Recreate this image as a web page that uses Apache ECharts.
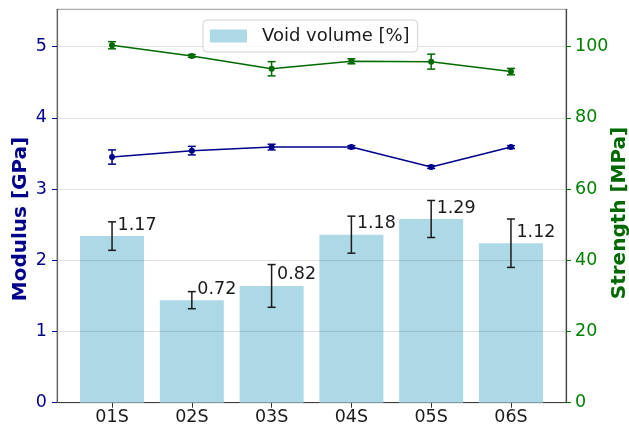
<!DOCTYPE html>
<html>
<head>
<meta charset="utf-8">
<script src="https://cdn.jsdelivr.net/npm/echarts@6/dist/echarts.min.js"></script>
<style>html,body{margin:0;padding:0;background:#fff;}#c{width:629px;height:425px;}</style>
</head>
<body>
<div id="c"></div>
<script>
const categories = ['01S', '02S', '03S', '04S', '05S', '06S'];
const voidVolume = [1.17, 0.72, 0.82, 1.18, 1.29, 1.12];
const voidErr = [0.10, 0.06, 0.15, 0.13, 0.13, 0.17];
const modulus = [3.45, 3.54, 3.59, 3.59, 3.31, 3.59];
const modulusErr = [0.10, 0.06, 0.04, 0.02, 0.02, 0.02];
const strength = [100.4, 97.4, 93.8, 95.9, 95.8, 93.0];
const strengthErr = [1.0, 0.4, 2.0, 0.7, 2.1, 0.9];
const leftTicks = [0, 1, 2, 3, 4, 5];
const rightTicks = [0, 20, 40, 60, 80, 100];

const FONT = 'DejaVu Sans';
const BLUE = '#00008b';
const GREEN = '#008000';
const DGREEN = '#006a00';
const idx = categories.map((c, i) => i);

function errSeries(name, vals, errs, yIdx, color, z) {
  return {
    type: 'custom', name: name, yAxisIndex: yIdx, z: z, silent: true, clip: false,
    data: idx.map(i => [i, vals[i], errs[i]]),
    encode: {x: 0, y: 1},
    renderItem: function (params, api) {
      const x = api.value(0), v = api.value(1), e = api.value(2);
      const t = api.coord([x, v + e]);
      const b = api.coord([x, v - e]);
      const hw = 4;
      const st = {stroke: color, lineWidth: 1.5};
      return {type: 'group', children: [
        {type: 'line', shape: {x1: t[0], y1: t[1], x2: b[0], y2: b[1]}, style: st},
        {type: 'line', shape: {x1: t[0] - hw, y1: t[1], x2: t[0] + hw, y2: t[1]}, style: st},
        {type: 'line', shape: {x1: b[0] - hw, y1: b[1], x2: b[0] + hw, y2: b[1]}, style: st}
      ]};
    }
  };
}

const chart = echarts.init(document.getElementById('c'), null, {renderer: 'canvas'});
chart.setOption({
  animation: false,
  textStyle: {fontFamily: FONT},
  grid: {left: 57, right: 63, top: 9.3, bottom: 22.3, containLabel: false, outerBoundsMode: 'none',
    show: true, borderColor: '#999', borderWidth: 1, backgroundColor: 'transparent'},
  legend: {
    data: ['Void volume [%]'],
    left: 203, top: 20,
    itemWidth: 37, itemHeight: 13,
    padding: [7, 8, 7, 7],
    borderColor: '#d0d0d0', borderWidth: 1, borderRadius: 4,
    backgroundColor: 'rgba(255,255,255,0.8)',
    icon: 'rect',
    textStyle: {fontFamily: FONT, fontSize: 18, color: '#1a1a1a', padding: [0, 0, 0, 10]}
  },
  xAxis: {
    type: 'value', min: -0.69, max: 5.69,
    splitLine: {show: false},
    axisLine: {show: true, onZero: false, lineStyle: {color: '#444', width: 1.2}},
    axisTick: {show: true, length: 5, customValues: idx, lineStyle: {color: '#333'}},
    axisLabel: {customValues: idx, margin: 6, fontSize: 17.5, color: '#1a1a1a', fontFamily: FONT,
      formatter: v => categories[Math.round(v)]}
  },
  yAxis: [
    {
      type: 'value', position: 'left', min: 0, max: 5.525, z: 3,
      name: 'Modulus [GPa]', nameLocation: 'middle', nameRotate: 90, nameGap: 26, nameMoveOverlap: false,
      nameTextStyle: {fontFamily: FONT, fontSize: 20, fontWeight: 'bold', color: BLUE, padding: [0, 26, 0, 0]},
      axisLine: {show: true, onZero: false, lineStyle: {color: '#666', width: 1.2}},
      axisTick: {show: true, length: 5, customValues: leftTicks, lineStyle: {color: BLUE}},
      axisLabel: {customValues: leftTicks, margin: 10, fontSize: 17.5, color: BLUE, fontFamily: FONT},
      splitLine: {show: true, lineStyle: {color: 'rgba(0,0,0,0.12)', width: 1}}
    },
    {
      type: 'value', position: 'right', min: 0, max: 110.5, z: 3,
      name: 'Strength [MPa]', nameLocation: 'middle', nameRotate: 90, nameGap: 44, nameMoveOverlap: false,
      nameTextStyle: {fontFamily: FONT, fontSize: 20, fontWeight: 'bold', color: DGREEN, padding: [0, 14, 0, 0]},
      axisLine: {show: true, onZero: false, lineStyle: {color: '#444', width: 1.2}},
      axisTick: {show: true, length: 5, customValues: rightTicks, lineStyle: {color: GREEN}},
      axisLabel: {customValues: rightTicks, margin: 9, fontSize: 17.5, color: GREEN, fontFamily: FONT},
      splitLine: {show: false}
    },
    {
      type: 'value', show: false, min: 0, max: 2.7625,
      splitLine: {show: false}
    }
  ],
  series: [
    {
      type: 'bar', name: 'Void volume [%]', yAxisIndex: 2, z: 2,
      barWidth: 64,
      itemStyle: {color: '#add8e6'},
      data: idx.map(i => [i, voidVolume[i]]),
      label: {
        show: true, position: 'top', align: 'left', offset: [5.5, 0], distance: 2,
        fontFamily: FONT, fontSize: 17.5, color: '#1a1a1a',
        formatter: p => p.value[1].toFixed(2)
      }
    },
    errSeries('voidErr', voidVolume, voidErr, 2, '#1a1a1a', 4),
    {
      type: 'line', name: 'Modulus', yAxisIndex: 0, z: 5,
      data: idx.map(i => [i, modulus[i]]),
      symbol: 'circle', symbolSize: 6,
      lineStyle: {color: BLUE, width: 1.5}, itemStyle: {color: BLUE}
    },
    errSeries('modErr', modulus, modulusErr, 0, BLUE, 6),
    {
      type: 'line', name: 'Strength', yAxisIndex: 1, z: 5,
      data: idx.map(i => [i, strength[i]]),
      symbol: 'circle', symbolSize: 6,
      lineStyle: {color: DGREEN, width: 1.5}, itemStyle: {color: DGREEN}
    },
    errSeries('strErr', strength, strengthErr, 1, DGREEN, 6)
  ]
});
</script>
</body>
</html>
